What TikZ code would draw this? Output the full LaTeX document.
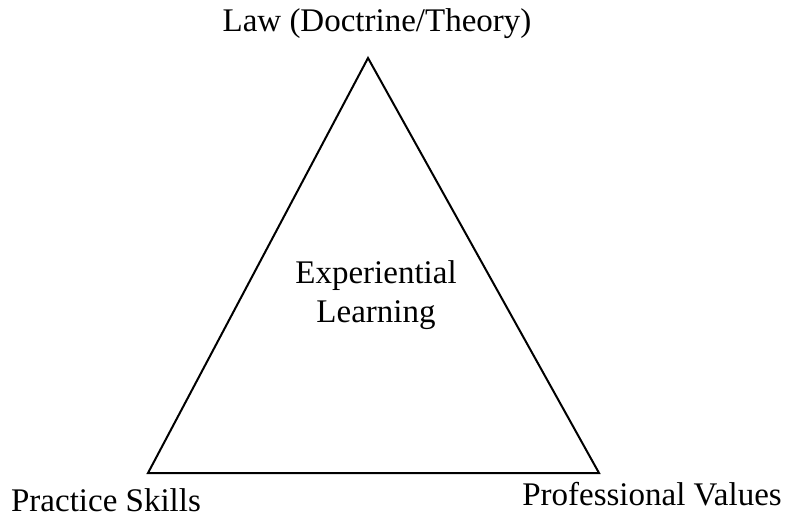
\documentclass[tikz,border=0pt]{standalone}
\usepackage{fontspec}
\setmainfont{Liberation Serif}
\begin{document}
\begin{tikzpicture}[x=0.5pt,y=-0.5pt,
				cornertext/.style={font=\fontsize{16.5}{19.5}\selectfont,anchor=base,inner sep=0pt,align=center},
				side/.style={line width=1pt,line join=miter}]
				\useasboundingbox (0,0) rectangle (790,518);
				
				% Corners of the triangle
				\coordinate (top) at (368,58);
				\coordinate (left) at (148,473);
				\coordinate (right) at (599,473);
				
				% Texts
				\node[cornertext] (law) at (377,32) {Law (Doctrine/Theory)};
				\node[cornertext] (skills) at (106,511) {Practice Skills};
				\node[cornertext] (values) at (652,505) {Professional Values};
				\node[cornertext] (centre) at (376,322) {Experiential\\Learning};
				
				% Sides
				\draw[side] (top) -- (left) -- (right) -- cycle;
			\end{tikzpicture}
\end{document}
